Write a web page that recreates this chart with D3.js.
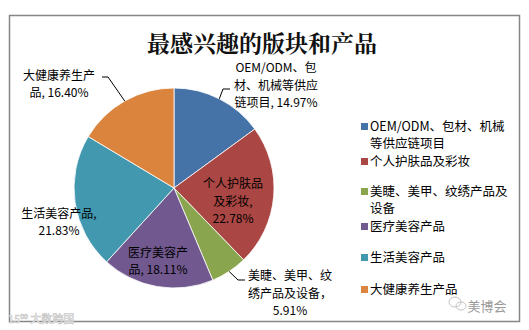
<!DOCTYPE html>
<html><head><meta charset="utf-8">
<script src="https://cdn.jsdelivr.net/npm/d3@7"></script>
<style>body{margin:0;background:#fff}svg{display:block}</style>
</head><body>
<svg id="c" width="529" height="330"></svg>
<script>
const title = "最感兴趣的版块和产品";
const categories = ["OEM/ODM、包材、机械等供应链项目","个人护肤品及彩妆","美睫、美甲、纹绣产品及设备","医疗美容产品","生活美容产品","大健康养生产品"];
const values = [14.97, 22.78, 5.91, 18.11, 21.83, 16.40];
const colors = ["#4572A7","#AA4643","#89A54E","#71588F","#4198AF","#DB843D"];
const labelLines = [
  ["OEM/ODM、包","材、机械等供应","链项目, 14.97%"],
  ["个人护肤品","及彩妆,","22.78%"],
  ["美睫、美甲、纹","绣产品及设备，","5.91%"],
  ["医疗美容产","品, 18.11%"],
  ["生活美容产品,","21.83%"],
  ["大健康养生产","品, 16.40%"]
];
const legendLines = [
  ["OEM/ODM、包材、机械","等供应链项目"],
  ["个人护肤品及彩妆"],
  ["美睫、美甲、纹绣产品及","设备"],
  ["医疗美容产品"],
  ["生活美容产品"],
  ["大健康养生产品"]
];

const svg = d3.select("#c");
const font = "'Noto Sans CJK SC','Noto Sans',sans-serif";
svg.append("rect").attr("x",9.5).attr("y",15.5).attr("width",510).attr("height",306)
  .attr("fill","#fff").attr("stroke","#868686").attr("stroke-width",1.5);

svg.append("text").attr("x",262).attr("y",42).attr("text-anchor","middle")
  .attr("dominant-baseline","central").attr("font-family","'Noto Serif CJK SC','Noto Sans CJK SC',serif")
  .attr("font-weight","bold").attr("font-size",23).attr("fill","#111").text(title);

const cx = 174, cy = 188, R = 100;
const pie = d3.pie().sort(null).value(d=>d)(values);
const arc = d3.arc().innerRadius(0).outerRadius(R);
const g = svg.append("g").attr("transform",`translate(${cx},${cy})`);
g.selectAll("path").data(pie).join("path").attr("d",arc)
  .attr("fill",(d,i)=>colors[i]).attr("stroke","#fff").attr("stroke-width",0.8);

// label layout (center of text block relative to pie center), leader lines
const labelPos = [
  {x:102,y:-104, leader:true, elbow:[49,-99], end:[56,-99]},
  {x:59,y:12},
  {x:116,y:104, leader:true, elbow:[64,92], end:[71,92]},
  {x:-16,y:72},
  {x:-115,y:33},
  {x:-115,y:-105, leader:true, elbow:[-66,-111], end:[-72,-111]}
];
const lh = 17.5;
pie.forEach((d,i)=>{
  const p = labelPos[i];
  const a = (d.startAngle+d.endAngle)/2;
  if (p.leader){
    const sx = R*Math.sin(a), sy = -R*Math.cos(a);
    g.append("path").attr("d",`M${sx},${sy}L${p.elbow[0]},${p.elbow[1]}L${p.end[0]},${p.end[1]}`)
      .attr("fill","none").attr("stroke","#000").attr("stroke-width",1);
  }
  const lines = labelLines[i];
  const t = g.append("text").attr("text-anchor","middle").attr("font-family",font)
    .attr("font-size",12).attr("fill","#000");
  lines.forEach((s,k)=>{
    t.append("tspan").attr("x",p.x).attr("y",p.y+(k-(lines.length-1)/2)*lh)
      .attr("dominant-baseline","central").text(s);
  });
});

// legend
const legendY = [125,160,190,225,256,288];
categories.forEach((c,i)=>{
  svg.append("rect").attr("x",361).attr("y",legendY[i]-2).attr("width",7).attr("height",7).attr("fill",colors[i]);
  const t = svg.append("text").attr("font-family",font).attr("font-size",12.5).attr("fill","#000");
  legendLines[i].forEach((s,k)=>{
    t.append("tspan").attr("x",370).attr("y",legendY[i]+k*17.5).attr("dominant-baseline","central").text(s);
  });
});

// watermarks
svg.append("text").attr("x",487).attr("y",305).attr("text-anchor","middle").attr("dominant-baseline","central")
  .attr("font-family",font).attr("font-size",13).attr("fill","#9a9a9a").text("美博会");
const wx = 458, wy = 304;
svg.append("ellipse").attr("cx",wx-3).attr("cy",wy-2).attr("rx",6).attr("ry",5).attr("fill","none").attr("stroke","#c4c4c4");
svg.append("ellipse").attr("cx",wx+3).attr("cy",wy+2).attr("rx",5).attr("ry",4).attr("fill","none").attr("stroke","#c4c4c4");
svg.append("text").attr("x",8).attr("y",318).attr("dominant-baseline","central")
  .attr("font-family",font).attr("font-size",11).attr("fill","#fff").attr("stroke","#c8c8c8").attr("stroke-width",0.6).text("15⁰⁰ 大数跨国");
</script>
</body></html>
